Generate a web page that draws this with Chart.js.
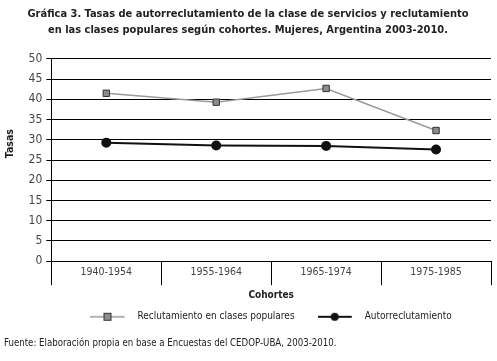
<!DOCTYPE html>
<html>
<head>
<meta charset="utf-8">
<script src="https://cdn.jsdelivr.net/npm/chart.js@4/dist/chart.umd.min.js"></script>
<style>
html,body{margin:0;padding:0;background:#fff;}
canvas{display:block;}
</style>
</head>
<body>
<canvas id="c" width="497" height="361"></canvas>
<script>
const categories = ["1940-1954", "1955-1964", "1965-1974", "1975-1985"];
const reclutamiento = [41.5, 39.3, 42.7, 32.3];
const autorreclutamiento = [29.3, 28.6, 28.5, 27.6];
const seriesNames = ["Reclutamiento en clases populares", "Autorreclutamiento"];
const titleLines = ["Gráfica 3. Tasas de autorreclutamiento de la clase de servicios y reclutamiento", "en las clases populares según cohortes. Mujeres, Argentina 2003-2010."];
const sourceText = "Fuente: Elaboración propia en base a Encuestas del CEDOP-UBA, 2003-2010.";

const FONT = "'DejaVu Sans Condensed', 'Liberation Sans Narrow', Arial, sans-serif";

function legendIcon(lineColor, lineWidth, shape, fill, stroke) {
  const cv = document.createElement('canvas');
  cv.width = 42; cv.height = 12;
  const g = cv.getContext('2d');
  g.strokeStyle = lineColor; g.lineWidth = lineWidth;
  g.beginPath(); g.moveTo(0, 6); g.lineTo(34, 6); g.stroke();
  g.fillStyle = fill; g.strokeStyle = stroke; g.lineWidth = 1;
  if (shape === 'rect') {
    g.fillRect(13.5, 2.5, 7, 7); g.strokeRect(13.5, 2.5, 7, 7);
  } else {
    g.beginPath(); g.arc(17, 6, 4, 0, Math.PI * 2); g.fill();
  }
  return cv;
}
const icons = [
  legendIcon('#9a9a9a', 1.5, 'rect', '#8c8c8c', '#333'),
  legendIcon('#111', 2, 'circle', '#111', '#111')
];

new Chart(document.getElementById('c'), {
  type: 'line',
  data: {
    labels: categories,
    datasets: [
      {
        label: seriesNames[0],
        data: reclutamiento,
        borderColor: '#9a9a9a',
        borderWidth: 1.5,
        pointStyle: 'rect',
        pointRadius: 4.5,
        pointBackgroundColor: '#8c8c8c',
        pointBorderColor: '#333',
        pointBorderWidth: 1,
        tension: 0
      },
      {
        label: seriesNames[1],
        data: autorreclutamiento,
        borderColor: '#111',
        borderWidth: 2,
        pointStyle: 'circle',
        pointRadius: 4,
        pointBackgroundColor: '#111',
        pointBorderColor: '#111',
        tension: 0
      }
    ]
  },
  options: {
    responsive: false,
    animation: false,
    devicePixelRatio: 1,
    layout: { padding: { left: 4, right: 5, top: 4, bottom: 11 } },
    plugins: {
      title: {
        display: true,
        text: titleLines,
        color: '#222',
        font: { family: FONT, size: 11, weight: 'bold', lineHeight: 1.45 },
        padding: { top: 2, bottom: 21 }
      },
      subtitle: {
        display: true,
        position: 'bottom',
        align: 'start',
        text: sourceText,
        color: '#222',
        font: { family: FONT, size: 9.6, weight: 'normal', lineHeight: 1.375 },
        padding: { top: 5, bottom: 0 }
      },
      legend: {
        position: 'bottom',
        fullSize: false,
        labels: {
          usePointStyle: true,
          pointStyleWidth: 42,
          color: '#222',
          font: { family: FONT, size: 10 },
          padding: 6,
          generateLabels(chart) {
            const items = Chart.defaults.plugins.legend.labels.generateLabels(chart);
            items.forEach((it, i) => { it.pointStyle = icons[i]; });
            items[0].text = items[0].text + '      ';
            return items;
          }
        }
      },
      tooltip: { enabled: false }
    },
    scales: {
      x: {
        offset: true,
        grid: {
          offset: true,
          drawOnChartArea: false,
          drawTicks: true,
          tickLength: 24,
          color: '#000',
          lineWidth: 1
        },
        border: { display: true, color: '#000', width: 1 },
        ticks: {
          color: '#444',
          padding: -19,
          font: { family: FONT, size: 10.5 }
        },
        title: {
          display: true,
          text: 'Cohortes',
          color: '#222',
          font: { family: FONT, size: 10, weight: 'bold' },
          padding: { top: 30, bottom: 4 }
        }
      },
      y: {
        min: 0,
        max: 50,
        ticks: {
          stepSize: 5,
          color: '#444',
          padding: 4,
          font: { family: FONT, size: 12 }
        },
        grid: {
          color: '#000',
          lineWidth: 1,
          drawTicks: true,
          tickLength: 5
        },
        border: { display: true, color: '#000', width: 1 },
        title: {
          display: true,
          text: '          Tasas',
          color: '#222',
          font: { family: FONT, size: 10.5, weight: 'bold' },
          padding: { top: 0, bottom: 8 }
        }
      }
    }
  }
});
</script>
</body>
</html>
